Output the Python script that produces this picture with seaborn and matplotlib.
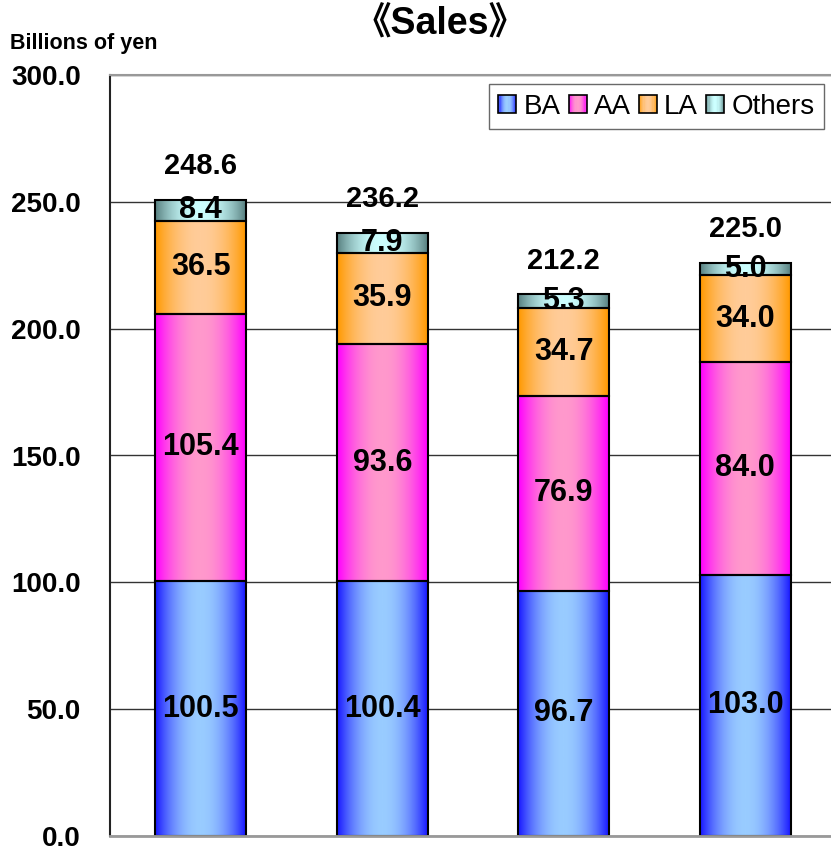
import numpy as np
import pandas as pd
import matplotlib.pyplot as plt
import seaborn as sns
from matplotlib.colors import LinearSegmentedColormap
from matplotlib.legend_handler import HandlerBase
from matplotlib.patches import Rectangle, Patch

# data (billions of yen)
periods = ['P1', 'P2', 'P3', 'P4']
ba = [100.5, 100.4, 96.7, 103.0]
aa = [105.4, 93.6, 76.9, 84.0]
la = [36.5, 35.9, 34.7, 34.0]
others = [8.4, 7.9, 5.3, 5.0]
totals = [248.6, 236.2, 212.2, 225.0]

series = ['BA', 'AA', 'LA', 'Others']
values = [ba, aa, la, others]
# (edge colour, centre colour) for the gradient fill
grads = [('#1a1aff', '#99ccff'),
         ('#ff00ff', '#ff99cc'),
         ('#ff9900', '#ffcc99'),
         ('#5a8282', '#ccffff')]
cmaps = [LinearSegmentedColormap.from_list(n, g) for n, g in zip(series, grads)]

sns.set_style('white')
plt.rcParams['font.family'] = ['Liberation Sans', 'Noto Sans CJK JP', 'DejaVu Sans']
plt.rcParams['text.color'] = 'black'
plt.rcParams['ytick.labelcolor'] = 'black'

fig = plt.figure(figsize=(8.31, 8.47), dpi=100)
ax = fig.add_axes([110 / 831, 11 / 847, 726 / 831, 761 / 847])

xs = np.linspace(0, 1, 64)
profile = 1 - np.abs(2 * xs - 1) ** 2
grad_img = profile[np.newaxis, :]

bottom = np.zeros(len(periods))
for name, vals, cmap in zip(series, values, cmaps):
    n_before = len(ax.patches)
    sns.barplot(x=periods, y=vals, bottom=bottom, ax=ax, width=0.5,
                color='white', edgecolor='black', linewidth=1.5,
                facecolor='none', zorder=2)
    for p, v in zip(ax.patches[n_before:], vals):
        x0, y0 = p.get_x(), p.get_y()
        w, h = p.get_width(), p.get_height()
        im = ax.imshow(grad_img, extent=[x0, x0 + w, y0, y0 + h],
                       aspect='auto', cmap=cmap, vmin=0, vmax=1,
                       interpolation='bicubic', zorder=1.5)
        im.set_clip_path(p)
        ax.text(x0 + w / 2, y0 + h / 2, f'{v:.1f}', ha='center', va='center',
                fontsize=22, fontweight='bold', color='black', zorder=4)
    bottom = bottom + np.array(vals)

for i, t in enumerate(totals):
    ax.annotate(f'{t:.1f}', xy=(i, bottom[i]), xytext=(0, 24),
                textcoords='offset points', ha='center', va='center',
                fontsize=21, fontweight='bold', color='black')

ax.set_xlim(-0.5, 3.5)
ax.set_ylim(0, 300)
ax.set_yticks(np.arange(0, 301, 50))
ax.set_yticklabels([f'{v:.1f}' for v in np.arange(0, 301, 50)],
                   fontsize=20, fontweight='bold', color='black')
ax.set_xticks([])
ax.set_xlabel('')
ax.set_ylabel('')
ax.set_axisbelow(True)
ax.yaxis.grid(True, color='#333333', linewidth=1)
ax.tick_params(axis='y', direction='in', length=6, width=1, color='#333333', pad=21)

ax.spines['left'].set_color('#222222')
ax.spines['left'].set_linewidth(1.5)
ax.spines['bottom'].set_color('#999999')
ax.spines['bottom'].set_linewidth(2)
ax.spines['top'].set_color('#999999')
ax.spines['top'].set_linewidth(1.5)
ax.spines['right'].set_visible(False)


class GradientHandler(HandlerBase):
    def __init__(self, cmap):
        super().__init__()
        self.cmap = cmap

    def create_artists(self, legend, orig_handle, xdescent, ydescent,
                       width, height, fontsize, trans):
        side = min(width, height)
        x0 = -xdescent + (width - side) / 2
        y0 = -ydescent + (height - side) / 2
        n = 16
        arts = []
        for k in range(n):
            t = (k + 0.5) / n
            c = self.cmap(1 - abs(2 * t - 1) ** 2)
            r = Rectangle((x0 + k * side / n, y0), side / n, side,
                          facecolor=c, edgecolor='none', transform=trans)
            arts.append(r)
        arts.append(Rectangle((x0, y0), side, side, facecolor='none',
                              edgecolor='black', linewidth=1.2, transform=trans))
        return arts


handles = [Patch(label=n) for n in series]
leg = ax.legend(handles=handles, labels=series, ncol=4, loc='upper right',
                bbox_to_anchor=(824 / 831, (847 - 84) / 847),
                bbox_transform=fig.transFigure, borderaxespad=0,
                fontsize=20, frameon=True, fancybox=False,
                handlelength=0.65, handleheight=0.65, handletextpad=0.25,
                columnspacing=0.3, borderpad=0.35,
                handler_map={h: GradientHandler(c) for h, c in zip(handles, cmaps)})
leg.get_frame().set_edgecolor('#444444')
leg.get_frame().set_linewidth(1)

fig.text(440 / 831, 1 - 25 / 847, '《Sales》', ha='center', va='center',
         fontsize=27, fontweight='bold')
fig.text(10 / 831, 1 - 43 / 847, 'Billions of yen', ha='left', va='center',
         fontsize=15.5, fontweight='bold')

fig.savefig('out.png', dpi=100)
